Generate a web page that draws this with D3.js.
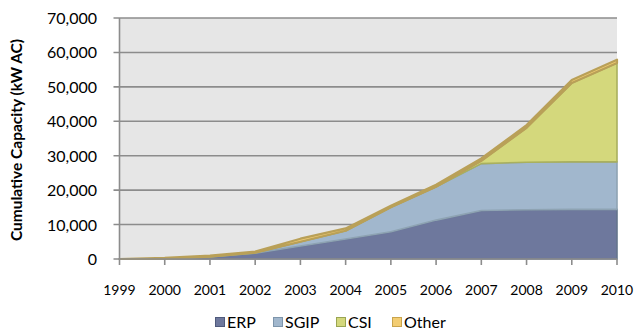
<!DOCTYPE html>
<html>
<head>
<meta charset="utf-8">
<script src="https://cdn.jsdelivr.net/npm/d3@7"></script>
<style>
  html, body { margin: 0; padding: 0; background: #fff; }
  svg { display: block; font-family: Lato, "Open Sans", sans-serif; }
</style>
</head>
<body>
<svg id="chart" width="634" height="330"></svg>
<script>
// Cumulative installed capacity (kW AC) by program, 1999–2010
const years = [1999, 2000, 2001, 2002, 2003, 2004, 2005, 2006, 2007, 2008, 2009, 2010];
const erp   = [0, 100, 600, 1700, 3800, 5800, 7900, 11300, 14100, 14300, 14400, 14400];
const sgip  = [0, 0, 50, 150, 1200, 2400, 7100, 9700, 13600, 13800, 13800, 13800];
const csi   = [0, 0, 0, 0, 0, 0, 0, 0, 800, 10000, 22900, 28700];
const other = [0, 200, 350, 300, 900, 700, 500, 600, 700, 800, 900, 1000];
const seriesNames = ["ERP", "SGIP", "CSI", "Other"];
const yTicks = [0, 10000, 20000, 30000, 40000, 50000, 60000, 70000];

const fills   = { ERP: "#6e789d", SGIP: "#a1b7cd", CSI: "#d4d87c", Other: "#f3cd72" };
const strokes = { ERP: "#65768c", SGIP: "#8ea3b3", CSI: "#a9b05e", Other: "#b9a058" };
const strokeWidths = { ERP: 1.6, SGIP: 1.6, CSI: 1.6, Other: 2.2 };
const legendBorder = { ERP: "#4f5a7c", SGIP: "#7d95ab", CSI: "#9aa552", Other: "#c9a44c" };

const table = years.map((yr, i) => ({ year: yr, ERP: erp[i], SGIP: sgip[i], CSI: csi[i], Other: other[i] }));

const svg = d3.select("#chart");
const plotLeft = 119.5, plotRight = 617, plotTop = 18, plotBottom = 259;

const x = d3.scaleLinear().domain([years[0], years[years.length - 1]]).range([plotLeft, plotRight]);
const y = d3.scaleLinear().domain([0, 70000]).range([plotBottom, plotTop]);

// plot background
svg.append("rect")
  .attr("x", plotLeft).attr("y", plotTop)
  .attr("width", plotRight - plotLeft).attr("height", plotBottom - plotTop)
  .attr("fill", "#e6e6e6");

// horizontal gridlines with small outside ticks
svg.append("g")
  .selectAll("line")
  .data(yTicks.filter(d => d > 0))
  .join("line")
  .attr("x1", plotLeft - 6).attr("x2", plotRight)
  .attr("y1", d => y(d)).attr("y2", d => y(d))
  .attr("stroke", "#8c8c8c").attr("stroke-width", 1.6);

// stacked areas
const stack = d3.stack().keys(seriesNames);
const layers = stack(table);
const area = d3.area()
  .x(d => x(d.data.year))
  .y0(d => y(d[0]))
  .y1(d => y(d[1]));

svg.append("g")
  .selectAll("path")
  .data(layers)
  .join("path")
  .attr("d", area)
  .attr("fill", d => fills[d.key])
  .attr("stroke", d => strokes[d.key])
  .attr("stroke-width", d => strokeWidths[d.key])
  .attr("stroke-linejoin", "round");

// axis lines
svg.append("line")
  .attr("x1", plotLeft).attr("x2", plotLeft)
  .attr("y1", plotTop).attr("y2", plotBottom)
  .attr("stroke", "#8c8c8c").attr("stroke-width", 1.6);
svg.append("line")
  .attr("x1", plotLeft - 6).attr("x2", plotRight)
  .attr("y1", plotBottom).attr("y2", plotBottom)
  .attr("stroke", "#8c8c8c").attr("stroke-width", 1.6);

// x ticks and labels
const xAxis = svg.append("g");
xAxis.selectAll("line")
  .data(years)
  .join("line")
  .attr("x1", d => x(d)).attr("x2", d => x(d))
  .attr("y1", plotBottom).attr("y2", plotBottom + 6)
  .attr("stroke", "#8c8c8c").attr("stroke-width", 1.6);
xAxis.selectAll("text")
  .data(years)
  .join("text")
  .attr("x", d => x(d))
  .attr("y", 295)
  .attr("text-anchor", "middle")
  .attr("font-size", 14)
  .attr("fill", "#000")
  .text(d => d);

// y tick labels
const fmt = d3.format(",");
svg.append("g")
  .selectAll("text")
  .data(yTicks)
  .join("text")
  .attr("x", 97)
  .attr("y", d => y(d) + 6)
  .attr("text-anchor", "end")
  .attr("font-size", 16)
  .attr("fill", "#000")
  .text(d => fmt(d));

// y axis title
svg.append("text")
  .attr("transform", "translate(22,140) rotate(-90)")
  .attr("text-anchor", "middle")
  .attr("font-size", 15.5)
  .attr("font-weight", "bold")
  .attr("fill", "#000")
  .text("Cumulative Capacity (kW AC)");

// legend
const legendX = [215, 273, 336, 392];
const legend = svg.append("g");
seriesNames.forEach((name, i) => {
  const g = legend.append("g").attr("transform", `translate(${legendX[i]},317)`);
  g.append("rect")
    .attr("x", 0.5).attr("y", 0.5)
    .attr("width", 9).attr("height", 9)
    .attr("fill", fills[name])
    .attr("stroke", legendBorder[name]);
  g.append("text")
    .attr("x", 12).attr("y", 10.5)
    .attr("font-size", 16)
    .attr("fill", "#000")
    .text(name);
});
</script>
</body>
</html>
